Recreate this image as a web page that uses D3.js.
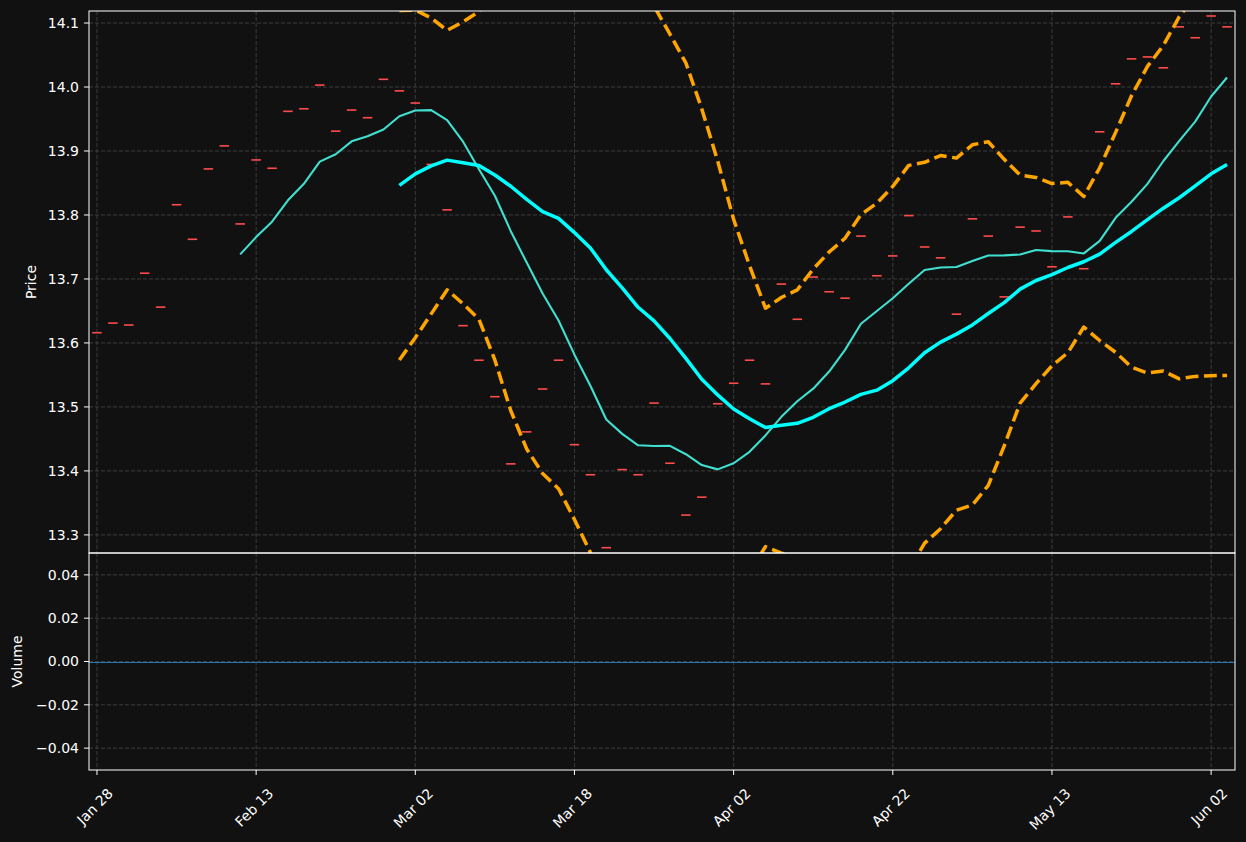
<!DOCTYPE html>
<html>
<head>
<meta charset="utf-8">
<script src="https://cdn.jsdelivr.net/npm/d3@7"></script>
<style>
  html, body { margin: 0; padding: 0; background: #111111; }
  svg { display: block; }
  text { font-family: "DejaVu Sans", sans-serif; fill: #ffffff; font-size: 14px; }
</style>
</head>
<body>
<script>
// closing price per trading day (index 0 = Jan 28)
let closes = [
  13.616, 13.631, 13.628, 13.709, 13.656, 13.816, 13.762, 13.872, 13.908, 13.786,
  13.886, 13.873, 13.962, 13.966, 14.003, 13.931, 13.964, 13.952, 14.012, 13.994,
  13.975, 13.879, 13.808, 13.627, 13.573, 13.516, 13.411, 13.461, 13.528, 13.573,
  13.441, 13.394, 13.280, 13.402, 13.394, 13.506, 13.412, 13.331, 13.359, 13.505,
  13.537, 13.573, 13.536, 13.692, 13.637, 13.703, 13.680, 13.670, 13.767, 13.705,
  13.736, 13.799, 13.750, 13.733, 13.645, 13.794, 13.767, 13.672, 13.781, 13.775,
  13.719, 13.797, 13.716, 13.930, 14.005, 14.044, 14.047, 14.030, 14.094, 14.077,
  14.111, 14.094
];

// x tick positions (trading day index) and their date labels
let tickIndex = [0, 10, 20, 30, 40, 50, 60, 70];
let tickLabels = ["Jan 28", "Feb 13", "Mar 02", "Mar 18", "Apr 02", "Apr 22", "May 13", "Jun 02"];

let priceTicks = [13.3, 13.4, 13.5, 13.6, 13.7, 13.8, 13.9, 14.0, 14.1];
let volumeTicks = [0.04, 0.02, 0.0, -0.02, -0.04];

// layout
let W = 1246, H = 842;
let left = 89, right = 1235;
let priceTop = 11, priceBottom = 553;
let volTop = 553, volBottom = 770;

let svg = d3.select("body").append("svg")
  .attr("width", W)
  .attr("height", H);

svg.append("rect").attr("width", W).attr("height", H).attr("fill", "#111111");

// scales
let x = d3.scaleLinear().domain([-0.5, closes.length - 0.5]).range([left, right]);
let yPrice = d3.scaleLinear().domain([13.2717, 14.1188]).range([priceBottom, priceTop]);
let yVol = d3.scaleLinear().domain([-0.0501, 0.0501]).range([volBottom, volTop]);

// moving averages / bollinger bands derived from the closes (20 day, 2 std)
function rolling(arr, n, fn) {
  return arr.map((v, i) => i < n - 1 ? null : fn(arr.slice(i - n + 1, i + 1)));
}
let ma10 = rolling(closes, 10, d3.mean);
let ma20 = rolling(closes, 20, d3.mean);
let sd20 = rolling(closes, 20, d3.deviation);
let upper = ma20.map((m, i) => m == null ? null : m + 2 * sd20[i]);
let lower = ma20.map((m, i) => m == null ? null : m - 2 * sd20[i]);

// clip paths
let defs = svg.append("defs");
defs.append("clipPath").attr("id", "clipPrice")
  .append("rect").attr("x", left).attr("y", priceTop)
  .attr("width", right - left).attr("height", priceBottom - priceTop);
defs.append("clipPath").attr("id", "clipVol")
  .append("rect").attr("x", left).attr("y", volTop)
  .attr("width", right - left).attr("height", volBottom - volTop);

// grids
function grid(g, yScale, yTicks, top, bottom) {
  g.selectAll(".hgrid").data(yTicks).enter().append("line")
    .attr("x1", left).attr("x2", right)
    .attr("y1", d => yScale(d)).attr("y2", d => yScale(d))
    .attr("stroke", "#3d3d3d").attr("stroke-width", 1)
    .attr("stroke-dasharray", "4,2");
  g.selectAll(".vgrid").data(tickIndex).enter().append("line")
    .attr("x1", d => x(d)).attr("x2", d => x(d))
    .attr("y1", top).attr("y2", bottom)
    .attr("stroke", "#3d3d3d").attr("stroke-width", 1)
    .attr("stroke-dasharray", "4,2");
}
grid(svg.append("g"), yPrice, priceTicks, priceTop, priceBottom);
grid(svg.append("g"), yVol, volumeTicks, volTop, volBottom);

// price panel marks
let price = svg.append("g").attr("clip-path", "url(#clipPrice)");

price.selectAll(".candle").data(closes).enter().append("rect")
  .attr("class", "candle")
  .attr("x", (d, i) => x(i) - 4.75)
  .attr("y", d => yPrice(d) - 0.8)
  .attr("width", 9.5)
  .attr("height", 1.6)
  .attr("fill", "#ff4b4b");

let line = yScale => d3.line()
  .defined(d => d != null)
  .x((d, i) => x(i))
  .y(d => yScale(d));

price.append("path").datum(ma10)
  .attr("d", line(yPrice))
  .attr("fill", "none").attr("stroke", "#40E0D0").attr("stroke-width", 2.1)
  .attr("stroke-linejoin", "round");

price.append("path").datum(ma20)
  .attr("d", line(yPrice))
  .attr("fill", "none").attr("stroke", "#00FFFF").attr("stroke-width", 3.5)
  .attr("stroke-linejoin", "round");

[upper, lower].forEach(band => {
  price.append("path").datum(band)
    .attr("d", line(yPrice))
    .attr("fill", "none").attr("stroke", "#FFA500").attr("stroke-width", 3.5)
    .attr("stroke-dasharray", "12.8,5.6")
    .attr("stroke-linejoin", "round");
});

// volume panel: flat zero volume
let vol = svg.append("g").attr("clip-path", "url(#clipVol)");
let zeroY = Math.round(yVol(0)) + 0.5;
vol.append("line")
  .attr("x1", left).attr("x2", right)
  .attr("y1", zeroY).attr("y2", zeroY)
  .attr("stroke", "#1f77b4").attr("stroke-width", 1);

// frames
[[priceTop, priceBottom], [volTop, volBottom]].forEach(([t, b]) => {
  svg.append("rect")
    .attr("x", left).attr("y", t)
    .attr("width", right - left).attr("height", b - t)
    .attr("fill", "none").attr("stroke", "#ffffff").attr("stroke-width", 1);
});

// y axes
function yAxis(yScale, ticks, fmt) {
  let g = svg.append("g");
  g.selectAll("line").data(ticks).enter().append("line")
    .attr("x1", left - 5).attr("x2", left)
    .attr("y1", d => yScale(d)).attr("y2", d => yScale(d))
    .attr("stroke", "#ffffff").attr("stroke-width", 1);
  g.selectAll("text").data(ticks).enter().append("text")
    .attr("x", left - 10)
    .attr("y", d => yScale(d))
    .attr("dy", "0.35em")
    .attr("text-anchor", "end")
    .text(fmt);
}
yAxis(yPrice, priceTicks, d => d.toFixed(1));
yAxis(yVol, volumeTicks, d => d3.format(".2f")(d).replace("-", "\u2212"));

// x axis on the volume panel
let xg = svg.append("g");
xg.selectAll("line").data(tickIndex).enter().append("line")
  .attr("x1", d => x(d)).attr("x2", d => x(d))
  .attr("y1", volBottom).attr("y2", volBottom + 5)
  .attr("stroke", "#ffffff").attr("stroke-width", 1);

xg.selectAll("text").data(tickIndex).enter().append("text")
  .text((d, i) => tickLabels[i])
  .attr("text-anchor", "middle")
  .attr("dy", "0.35em")
  .each(function(d) {
    let w = this.getComputedTextLength();
    let h = 14;
    let half = (w + h) * Math.SQRT1_2 / 2;
    let cx = x(d) - 2, cy = volBottom + 16 + half;
    d3.select(this)
      .attr("x", cx).attr("y", cy)
      .attr("transform", "rotate(-45," + cx + "," + cy + ")");
  });

// axis titles
svg.append("text")
  .attr("transform", "translate(31," + ((priceTop + priceBottom) / 2) + ") rotate(-90)")
  .attr("text-anchor", "middle")
  .attr("dy", "0.35em")
  .text("Price");

svg.append("text")
  .attr("transform", "translate(17," + ((volTop + volBottom) / 2) + ") rotate(-90)")
  .attr("text-anchor", "middle")
  .attr("dy", "0.35em")
  .text("Volume");
</script>
</body>
</html>
